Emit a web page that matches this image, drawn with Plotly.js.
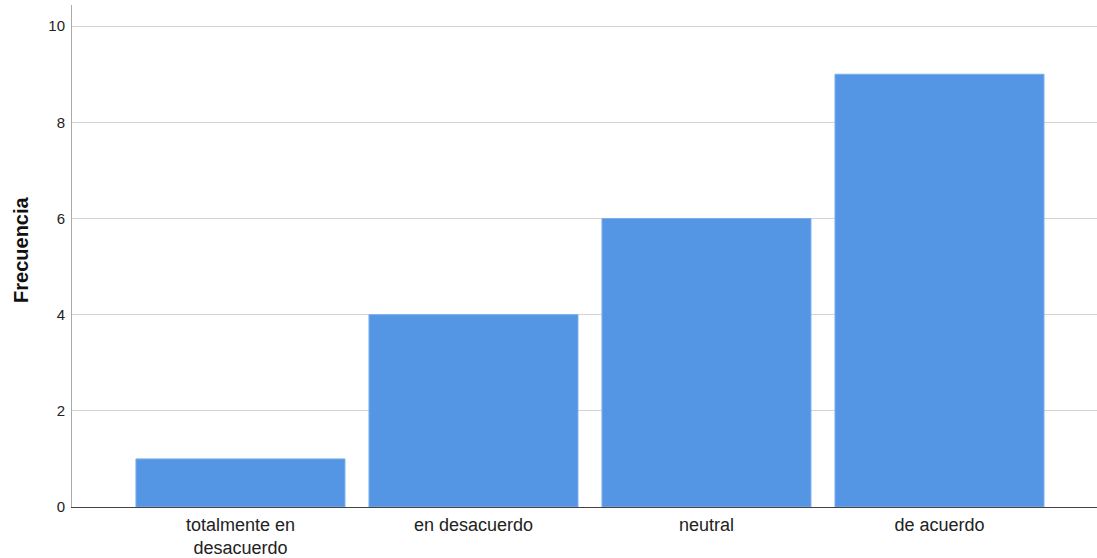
<!DOCTYPE html>
<html>
<head>
<meta charset="utf-8">
<script src="https://cdn.plot.ly/plotly-3.0.1.min.js"></script>
<style>
html,body{margin:0;padding:0;background:#fff;overflow:hidden;}
#chart{width:1097px;height:558px;}
</style>
</head>
<body>
<div id="chart"></div>
<script>
const categories = ["totalmente en<br>desacuerdo", "en desacuerdo", "neutral", "de acuerdo"];
const frecuencia = [1, 4, 6, 9];
const yTicks = [0, 2, 4, 6, 8, 10];
const yTitle = "Frecuencia";

const trace = {
  type: "bar",
  x: categories,
  y: frecuencia,
  marker: {color: "#5596e4", line: {color: "#7aaeee", width: 1}},
  hoverinfo: "x+y"
};

const layout = {
  width: 1097,
  height: 558,
  margin: {l: 72, r: 0, t: 5, b: 51},
  paper_bgcolor: "#ffffff",
  plot_bgcolor: "#ffffff",
  bargap: 0.103,
  showlegend: false,
  font: {family: "Liberation Sans, Arial, sans-serif", color: "#222222"},
  annotations: [{
    x: -0.0498, xref: "paper", xanchor: "center",
    y: 0.512, yref: "paper", yanchor: "middle",
    text: "<b>" + yTitle + "</b>",
    textangle: -90,
    showarrow: false,
    font: {size: 20, color: "#111111"}
  }],
  xaxis: {
    type: "category",
    range: [-0.723, 3.676],
    showgrid: false,
    showline: true,
    linecolor: "#444444",
    linewidth: 1,
    ticks: "",
    ticklabelstandoff: 1,
    tickfont: {size: 18, color: "#222222"},
    zeroline: false,
    fixedrange: true
  },
  yaxis: {
    range: [0, 10.44],
    tickvals: yTicks,
    ticktext: yTicks.map(String),
    showgrid: true,
    gridcolor: "#d4d4d4",
    gridwidth: 1,
    showline: true,
    linecolor: "#aaaaaa",
    linewidth: 1,
    zeroline: false,
    ticks: "",
    ticklabelstandoff: 3,
    tickfont: {size: 15, color: "#222222"},
    fixedrange: true
  }
};

Plotly.newPlot("chart", [trace], layout, {displayModeBar: false, staticPlot: true});
</script>
</body>
</html>
